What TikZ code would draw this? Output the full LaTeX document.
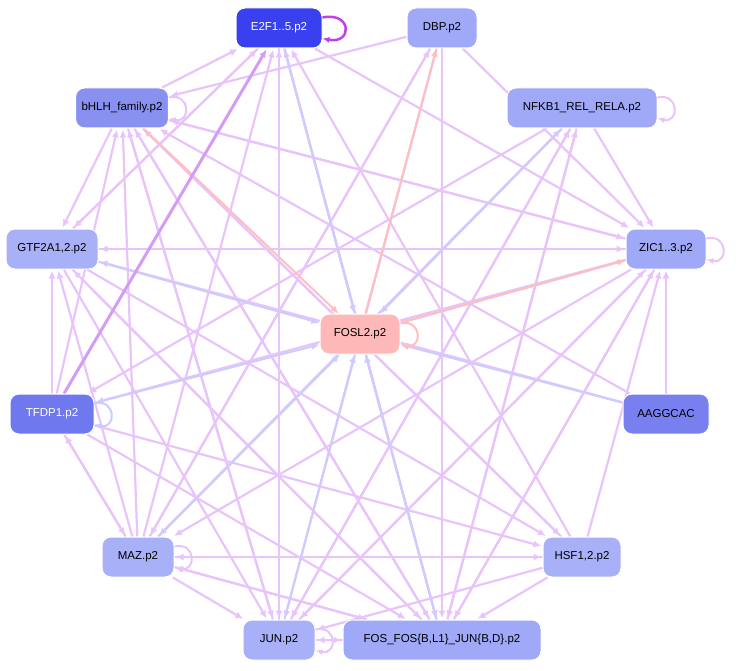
\documentclass[tikz,border=0pt]{standalone}
\usepackage{fontspec}
\setmainfont{Liberation Sans}
\usetikzlibrary{arrows.meta,backgrounds}
\begin{document}
\begin{tikzpicture}[x=1pt,y=-1pt,
  nd/.style={rounded corners=9pt,draw=white,line width=1pt,minimum height=40pt,font=\fontsize{11.5}{12}\selectfont,inner xsep=6pt},
  lav/.style={line width=2.2pt,-{Latex[length=8pt,width=7pt]},shorten >=1pt},
  blu/.style={draw=blue!20,line width=2pt,-{Latex[length=8pt,width=7pt]}},
  pnk/.style={draw=red!25,line width=2pt,-{Latex[length=8pt,width=7pt]}}]
\useasboundingbox (0,0) rectangle (738,671);
\definecolor{lavc}{HTML}{E8C4FA}
\definecolor{midp}{HTML}{D49CF4}
\tikzset{lav/.append style={draw=lavc}}
\node[nd,fill={rgb,255:red,56;green,64;blue,240},text=white,minimum width=86pt] (e2f) at (279,28) {E2F1..5.p2};
\node[nd,fill={rgb,255:red,160;green,168;blue,248},minimum width=70pt] (dbp) at (442,28) {DBP.p2};
\node[nd,fill={rgb,255:red,136;green,144;blue,240},minimum width=84pt] (bhlh) at (122,108) {bHLH\_family.p2};
\node[nd,fill={rgb,255:red,160;green,168;blue,248},minimum width=150pt] (nfkb) at (582,108) {NFKB1\_REL\_RELA.p2};
\node[nd,fill={rgb,255:red,168;green,176;blue,248},minimum width=92pt] (gtf) at (52,249) {GTF2A1,2.p2};
\node[nd,fill={rgb,255:red,160;green,168;blue,248},minimum width=80pt] (zic) at (666,249) {ZIC1..3.p2};
\node[nd,fill={rgb,255:red,255;green,184;blue,184},minimum width=80pt] (fosl) at (360,334) {FOSL2.p2};
\node[nd,fill={rgb,255:red,112;green,120;blue,240},text=white,minimum width=84pt] (tfdp) at (52,414) {TFDP1.p2};
\node[nd,fill={rgb,255:red,120;green,128;blue,240},minimum width=86pt] (aag) at (666,414) {AAGGCAC};
\node[nd,fill={rgb,255:red,168;green,176;blue,248},minimum width=72pt] (maz) at (138,557) {MAZ.p2};
\node[nd,fill={rgb,255:red,168;green,176;blue,248},minimum width=78pt] (hsf) at (582,557) {HSF1,2.p2};
\node[nd,fill={rgb,255:red,168;green,176;blue,248},minimum width=72pt] (jun) at (279,640) {JUN.p2};
\node[nd,fill={rgb,255:red,160;green,168;blue,248},minimum width=198pt] (fos) at (442,640) {FOS\_FOS\{B,L1\}\_JUN\{B,D\}.p2};
\begin{pgfonlayer}{background}
\foreach \a/\b in {bhlh/e2f,dbp/bhlh,bhlh/zic,zic/bhlh,bhlh/gtf,bhlh/jun,bhlh/fos,bhlh/hsf,e2f/zic,e2f/jun,e2f/fos,e2f/gtf,
  dbp/zic,dbp/fos,dbp/jun,maz/dbp,nfkb/maz,nfkb/tfdp,nfkb/fos,nfkb/jun,nfkb/zic,gtf/zic,zic/gtf,gtf/e2f,gtf/hsf,gtf/fos,gtf/jun,
  zic/maz,zic/tfdp,zic/jun,zic/fos,tfdp/bhlh,tfdp/gtf,tfdp/fos,tfdp/hsf,tfdp/maz,maz/e2f,maz/bhlh,maz/gtf,maz/tfdp,maz/hsf,maz/jun,maz/fos,maz/nfkb,
  hsf/bhlh,hsf/maz,hsf/fos,hsf/jun,hsf/zic,hsf/e2f,jun/e2f,jun/bhlh,jun/zic,jun/nfkb,fos/jun,jun/fos,fos/bhlh,fos/e2f,fos/zic,fos/nfkb,fos/maz,aag/zic,aag/bhlh,aag/gtf,fos/gtf,dbp/maz}
  \draw[lav] (\a) -- (\b);
\foreach \a in {gtf,tfdp,aag,maz,jun,fos,e2f,nfkb,zic}
  \draw[blu] (\a) -- (fosl);
\draw[pnk] (bhlh) -- (fosl);
\draw[pnk] (fosl) -- (dbp);
\draw[pnk] (fosl) -- (zic);
\draw[lav,draw=midp,line width=3pt] (tfdp) -- (e2f);
\end{pgfonlayer}
\draw[draw={rgb,255:red,192;green,64;blue,240},line width=2.5pt,-{Latex[length=7pt,width=6pt]}] ([yshift=-10]e2f.north east) .. controls +(30,-6) and +(30,6) .. ([yshift=10]e2f.south east);
\foreach \n/\c in {bhlh/lavc,nfkb/lavc,zic/lavc,maz/lavc,jun/lavc}
  \draw[draw=\c,line width=2pt,-{Latex[length=7pt,width=6pt]}] ([yshift=-10]\n.north east) .. controls +(22,-5) and +(22,5) .. ([yshift=10]\n.south east);
\draw[draw=red!25,line width=2pt,-{Latex[length=7pt,width=6pt]}] ([yshift=-10]fosl.north east) .. controls +(22,-5) and +(22,5) .. ([yshift=10]fosl.south east);
\draw[draw=blue!20,line width=2pt,-{Latex[length=7pt,width=6pt]}] ([yshift=-10]tfdp.north east) .. controls +(22,-5) and +(22,5) .. ([yshift=10]tfdp.south east);
\end{tikzpicture}
\end{document}
